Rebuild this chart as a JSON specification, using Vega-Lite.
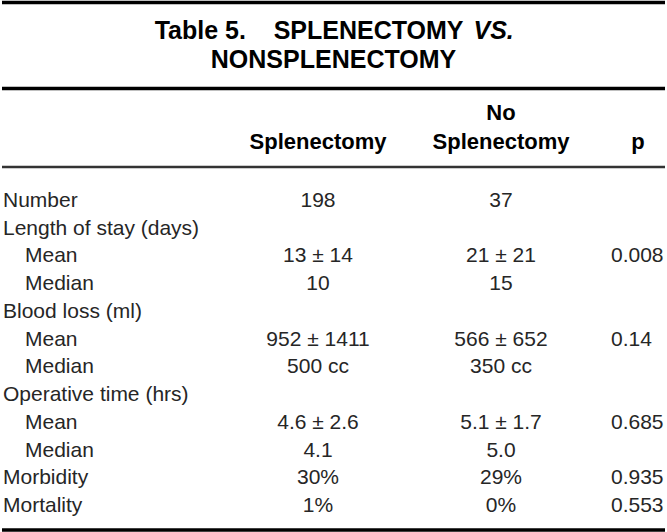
{
  "$schema": "https://vega.github.io/schema/vega-lite/v6.json",
  "width": 667,
  "height": 532,
  "padding": 0,
  "autosize": {"type": "fit", "contains": "padding"},
  "background": "white",
  "config": {"view": {"stroke": null}, "text": {"font": "Liberation Sans"}},
  "datasets": {
    "cells": [
      {"row": -5, "col": 0, "kind": "title1", "text": "Table 5.\u00a0\u00a0\u00a0\u00a0SPLENECTOMY"},
      {"row": -5, "col": 0, "kind": "title1it", "text": "VS."},
      {"row": -4, "col": 0, "kind": "title2", "text": "NONSPLENECTOMY"},
      {"row": -3, "col": 2, "kind": "header", "text": "No"},
      {"row": -2, "col": 1, "kind": "header", "text": "Splenectomy"},
      {"row": -2, "col": 2, "kind": "header", "text": "Splenectomy"},
      {"row": -2, "col": 4, "kind": "header", "text": "p"},
      {"row": 0, "col": 0, "kind": "label", "text": "Number"},
      {"row": 0, "col": 1, "kind": "value", "text": "198"},
      {"row": 0, "col": 2, "kind": "value", "text": "37"},
      {"row": 1, "col": 0, "kind": "label", "text": "Length of stay (days)"},
      {"row": 2, "col": 0, "kind": "sublabel", "text": "Mean"},
      {"row": 2, "col": 1, "kind": "value", "text": "13 ± 14"},
      {"row": 2, "col": 2, "kind": "value", "text": "21 ± 21"},
      {"row": 2, "col": 3, "kind": "pval", "text": "0.008"},
      {"row": 3, "col": 0, "kind": "sublabel", "text": "Median"},
      {"row": 3, "col": 1, "kind": "value", "text": "10"},
      {"row": 3, "col": 2, "kind": "value", "text": "15"},
      {"row": 4, "col": 0, "kind": "label", "text": "Blood loss (ml)"},
      {"row": 5, "col": 0, "kind": "sublabel", "text": "Mean"},
      {"row": 5, "col": 1, "kind": "value", "text": "952 ± 1411"},
      {"row": 5, "col": 2, "kind": "value", "text": "566 ± 652"},
      {"row": 5, "col": 3, "kind": "pval", "text": "0.14"},
      {"row": 6, "col": 0, "kind": "sublabel", "text": "Median"},
      {"row": 6, "col": 1, "kind": "value", "text": "500 cc"},
      {"row": 6, "col": 2, "kind": "value", "text": "350 cc"},
      {"row": 7, "col": 0, "kind": "label", "text": "Operative time (hrs)"},
      {"row": 8, "col": 0, "kind": "sublabel", "text": "Mean"},
      {"row": 8, "col": 1, "kind": "value", "text": "4.6 ± 2.6"},
      {"row": 8, "col": 2, "kind": "value", "text": "5.1 ± 1.7"},
      {"row": 8, "col": 3, "kind": "pval", "text": "0.685"},
      {"row": 9, "col": 0, "kind": "sublabel", "text": "Median"},
      {"row": 9, "col": 1, "kind": "value", "text": "4.1"},
      {"row": 9, "col": 2, "kind": "value", "text": "5.0"},
      {"row": 10, "col": 0, "kind": "label", "text": "Morbidity"},
      {"row": 10, "col": 1, "kind": "value", "text": "30%"},
      {"row": 10, "col": 2, "kind": "value", "text": "29%"},
      {"row": 10, "col": 3, "kind": "pval", "text": "0.935"},
      {"row": 11, "col": 0, "kind": "label", "text": "Mortality"},
      {"row": 11, "col": 1, "kind": "value", "text": "1%"},
      {"row": 11, "col": 2, "kind": "value", "text": "0%"},
      {"row": 11, "col": 3, "kind": "pval", "text": "0.553"}
    ],
    "rules": [
      {"row": -6, "kind": "heavy"},
      {"row": -3.5, "kind": "heavy"},
      {"row": -1, "kind": "medium"},
      {"row": 12, "kind": "heavy"}
    ]
  },
  "encoding": {
    "y": {
      "field": "row",
      "type": "quantitative",
      "axis": null,
      "scale": {
        "domain": [-6, -5, -4, -3.5, -3, -2, -1, 0, 11, 12],
        "range": [1.5, 30, 59, 87.5, 112, 141, 166, 200, 505, 529],
        "nice": false,
        "zero": false
      }
    }
  },
  "layer": [
    {
      "data": {"name": "rules"},
      "transform": [{"filter": "datum.kind === 'heavy'"}],
      "mark": {"type": "rule", "color": "#000000", "strokeWidth": 3.5},
      "encoding": {}
    },
    {
      "data": {"name": "rules"},
      "transform": [{"filter": "datum.kind === 'medium'"}],
      "mark": {"type": "rule", "color": "#333333", "strokeWidth": 2.5},
      "encoding": {}
    },
    {
      "data": {"name": "cells"},
      "transform": [{"filter": "datum.kind === 'title1'"}],
      "mark": {"type": "text", "align": "right", "baseline": "middle", "dx": 130, "fontSize": 25, "fontWeight": "bold", "color": "#000000"},
      "encoding": {"text": {"field": "text"}}
    },
    {
      "data": {"name": "cells"},
      "transform": [{"filter": "datum.kind === 'title1it'"}],
      "mark": {"type": "text", "align": "left", "baseline": "middle", "dx": 140, "fontSize": 25, "fontWeight": "bold", "fontStyle": "italic", "color": "#000000"},
      "encoding": {"text": {"field": "text"}}
    },
    {
      "data": {"name": "cells"},
      "transform": [{"filter": "datum.kind === 'title2'"}],
      "mark": {"type": "text", "align": "center", "baseline": "middle", "fontSize": 25, "fontWeight": "bold", "color": "#000000"},
      "encoding": {"text": {"field": "text"}}
    },
    {
      "data": {"name": "cells"},
      "transform": [{"filter": "datum.kind === 'header'"}],
      "mark": {"type": "text", "align": "center", "baseline": "middle", "fontSize": 22, "fontWeight": "bold", "color": "#000000"},
      "encoding": {
        "x": {"field": "col", "type": "quantitative", "axis": null, "scale": {"domain": [0, 1, 2, 3, 4], "range": [1, 316, 499, 609, 636], "nice": false, "zero": false}},
        "text": {"field": "text"}
      }
    },
    {
      "data": {"name": "cells"},
      "transform": [{"filter": "datum.kind === 'label'"}],
      "mark": {"type": "text", "align": "left", "baseline": "middle", "fontSize": 21, "color": "#262626"},
      "encoding": {
        "x": {"field": "col", "type": "quantitative", "axis": null},
        "text": {"field": "text"}
      }
    },
    {
      "data": {"name": "cells"},
      "transform": [{"filter": "datum.kind === 'sublabel'"}],
      "mark": {"type": "text", "align": "left", "baseline": "middle", "dx": 22, "fontSize": 21, "color": "#262626"},
      "encoding": {
        "x": {"field": "col", "type": "quantitative", "axis": null},
        "text": {"field": "text"}
      }
    },
    {
      "data": {"name": "cells"},
      "transform": [{"filter": "datum.kind === 'value'"}],
      "mark": {"type": "text", "align": "center", "baseline": "middle", "fontSize": 21, "color": "#262626"},
      "encoding": {
        "x": {"field": "col", "type": "quantitative", "axis": null},
        "text": {"field": "text"}
      }
    },
    {
      "data": {"name": "cells"},
      "transform": [{"filter": "datum.kind === 'pval'"}],
      "mark": {"type": "text", "align": "left", "baseline": "middle", "fontSize": 21, "color": "#262626"},
      "encoding": {
        "x": {"field": "col", "type": "quantitative", "axis": null},
        "text": {"field": "text"}
      }
    }
  ]
}
